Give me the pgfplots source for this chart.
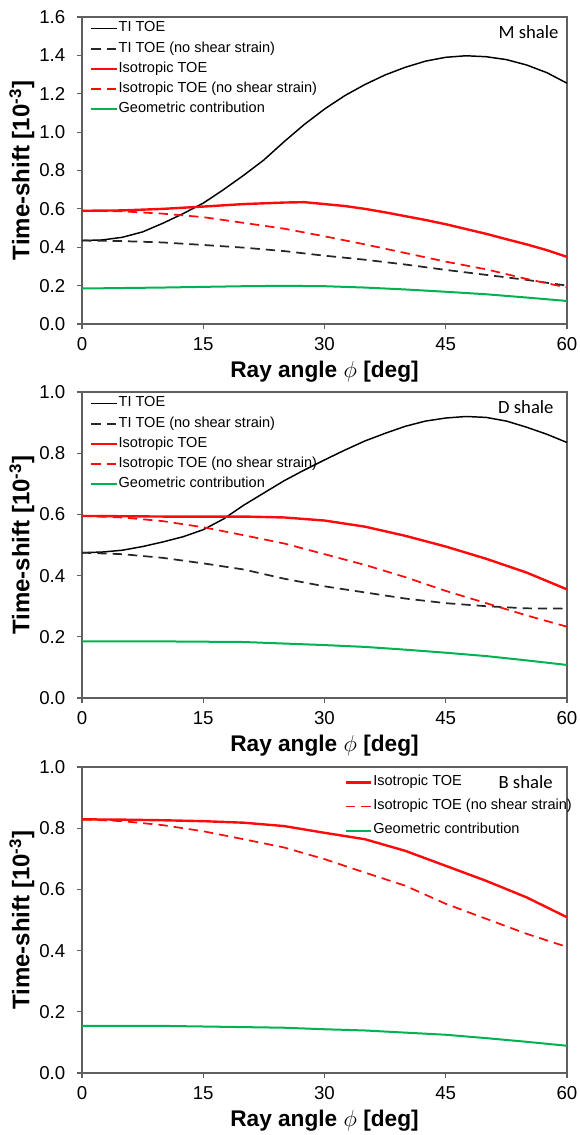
\documentclass[border=0pt]{standalone}
\usepackage{fontspec}
\setmainfont{Liberation Sans}
\newfontfamily\calib{Carlito}
\usepackage{pgfplots}
\pgfplotsset{compat=1.18}
\definecolor{myred}{RGB}{255,10,10}
\definecolor{mygreen}{RGB}{0,178,80}
\definecolor{framegray}{RGB}{95,95,95}
\pgfplotsset{
  shalebase/.style={
    scale only axis, width=363.75pt,
    xmin=0, xmax=60, xtick={0,15,30,45,60},
    tick align=outside, xtick pos=left, ytick pos=left,
    major tick length=4pt,
    axis line style={framegray, line width=0.9pt},
    every tick/.style={framegray, line width=0.9pt},
    /pgf/number format/assume math mode=true,
    tick label style={font=\fontsize{14}{16}\selectfont},
    yticklabel style={xshift=-5pt, /pgf/number format/.cd, fixed, fixed zerofill, precision=1, assume math mode=true},
    xticklabel style={yshift=-2.5pt},
    xlabel={Ray angle $\phi$ [deg]},
    ylabel={Time-shift [10\textsuperscript{-3}]},
    label style={font=\fontsize{17}{20}\selectfont\bfseries},
    xlabel style={at={(axis description cs:0.5,-0.156)}, anchor=center},
    ylabel style={at={(axis description cs:-0.124,0.5)}, anchor=center, font=\fontsize{18}{20}\selectfont\bfseries},
    legend cell align=left,
    legend image code/.code={\draw[#1] (0pt,0pt) -- (19pt,0pt);},
    legend style={draw=none, fill=none, font=\fontsize{10.9}{12}\selectfont,
      at={(rel axis cs:0,1)}, anchor=north west, xshift=6pt, yshift=-3.5pt,
      row sep=5.1pt, inner sep=0pt,
      nodes={inner xsep=0.5pt, inner ysep=0pt, text height=7.5pt, text depth=2.5pt}},
  },
  tisolid/.style={black, line width=1.1pt},
  tidash/.style={black!85, line width=1.3pt, dash pattern=on 7pt off 4.5pt},
  isosolid/.style={myred, line width=1.8pt},
  isodash/.style={myred, line width=1.3pt, dash pattern=on 7pt off 4.5pt},
  geom/.style={mygreen, line width=1.5pt},
}
\begin{document}
\begin{tikzpicture}
% ---------------- M shale ----------------
\begin{axis}[shalebase, at={(0pt,0pt)}, anchor=north west, height=230.25pt,
  ymin=0, ymax=1.6, ytick={0,0.2,...,1.6}]
\addplot[tisolid] table {
0 0.435
2.5 0.438
5 0.452
7.5 0.48
10 0.525
12.5 0.575
15 0.63
17.5 0.70
20 0.775
22.5 0.855
25 0.95
27.5 1.04
30 1.12
32.5 1.19
35 1.248
37.5 1.298
40 1.338
42.5 1.37
45 1.39
47.5 1.398
50 1.393
52.5 1.378
55 1.35
57.5 1.31
60 1.255
};
\addlegendentry{TI TOE}
\addplot[tidash] table {
0 0.435
5 0.432
10 0.425
15 0.412
20 0.398
25 0.38
30 0.356
35 0.335
40 0.31
45 0.282
50 0.256
55 0.23
60 0.20
};
\addlegendentry{TI TOE (no shear strain)}
\addplot[isosolid] table {
0 0.59
5 0.592
10 0.60
15 0.612
20 0.625
25 0.633
27.5 0.635
30 0.625
32.5 0.615
35 0.60
37.5 0.582
40 0.562
42.5 0.542
45 0.52
47.5 0.495
50 0.47
52.5 0.442
55 0.415
57.5 0.385
60 0.35
};
\addlegendentry{Isotropic TOE}
\addplot[isodash] table {
0 0.59
5 0.587
10 0.575
15 0.557
20 0.527
25 0.497
30 0.457
35 0.415
40 0.37
45 0.325
50 0.285
55 0.235
60 0.19
};
\addlegendentry{Isotropic TOE (no shear strain)}
\addplot[geom] table {
0 0.185
10 0.19
20 0.197
25 0.199
30 0.197
35 0.19
40 0.18
45 0.168
50 0.155
55 0.138
60 0.12
};
\addlegendentry{Geometric contribution}
\node[anchor=east, font=\calib\fontsize{14}{16}\selectfont] at (rel axis cs:0.992,0.951) {M shale};
\end{axis}
% ---------------- D shale ----------------
\begin{axis}[shalebase, at={(0pt,-281.25pt)}, anchor=north west, height=229.5pt,
  ymin=0, ymax=1.0, ytick={0,0.2,...,1.0}]
\addplot[tisolid] table {
0 0.475
2.5 0.477
5 0.483
7.5 0.495
10 0.51
12.5 0.527
15 0.55
17.5 0.585
20 0.63
22.5 0.67
25 0.71
27.5 0.745
30 0.778
32.5 0.81
35 0.84
37.5 0.865
40 0.888
42.5 0.905
45 0.915
47.5 0.92
50 0.917
52.5 0.905
55 0.885
57.5 0.862
60 0.835
};
\addlegendentry{TI TOE}
\addplot[tidash] table {
0 0.475
5 0.47
10 0.458
15 0.44
20 0.42
25 0.39
30 0.365
35 0.345
40 0.325
45 0.31
50 0.30
55 0.293
60 0.292
};
\addlegendentry{TI TOE (no shear strain)}
\addplot[isosolid] table {
0 0.595
10 0.593
20 0.593
25 0.59
30 0.58
35 0.56
40 0.53
45 0.495
50 0.455
55 0.41
60 0.355
};
\addlegendentry{Isotropic TOE}
\addplot[isodash] table {
0 0.595
5 0.59
10 0.578
15 0.558
20 0.532
25 0.505
30 0.47
35 0.435
40 0.395
45 0.35
50 0.31
55 0.27
60 0.233
};
\addlegendentry{Isotropic TOE (no shear strain)}
\addplot[geom] table {
0 0.185
10 0.185
20 0.183
25 0.178
30 0.173
35 0.167
40 0.158
45 0.148
50 0.137
55 0.123
60 0.108
};
\addlegendentry{Geometric contribution}
\node[anchor=east, font=\calib\fontsize{14}{16}\selectfont] at (rel axis cs:0.982,0.951) {D shale};
\end{axis}
% ---------------- B shale ----------------
\begin{axis}[shalebase, at={(0pt,-562.5pt)}, anchor=north west, height=229.5pt,
  ymin=0, ymax=1.0, ytick={0,0.2,...,1.0},
  legend style={xshift=191pt, yshift=-3pt, row sep=8pt}]
\addplot[isosolid] table {
0 0.829
5 0.828
10 0.826
15 0.823
20 0.818
25 0.807
30 0.785
35 0.764
40 0.726
45 0.677
50 0.628
55 0.574
60 0.509
};
\addlegendentry{Isotropic TOE}
\addplot[isodash] table {
0 0.829
5 0.823
10 0.81
15 0.79
20 0.764
25 0.737
30 0.699
35 0.655
40 0.612
45 0.553
50 0.504
55 0.455
60 0.412
};
\addlegendentry{Isotropic TOE (no shear strain)}
\addplot[geom] table {
0 0.154
10 0.154
15 0.152
20 0.15
25 0.148
30 0.143
35 0.139
40 0.132
45 0.125
50 0.114
55 0.102
60 0.089
};
\addlegendentry{Geometric contribution}
\node[anchor=east, font=\calib\fontsize{14}{16}\selectfont] at (rel axis cs:0.98,0.951) {B shale};
\end{axis}
\pgfresetboundingbox
\path (-61.5pt,12.75pt) rectangle (373.5pt,-838.5pt);
\end{tikzpicture}
\end{document}
